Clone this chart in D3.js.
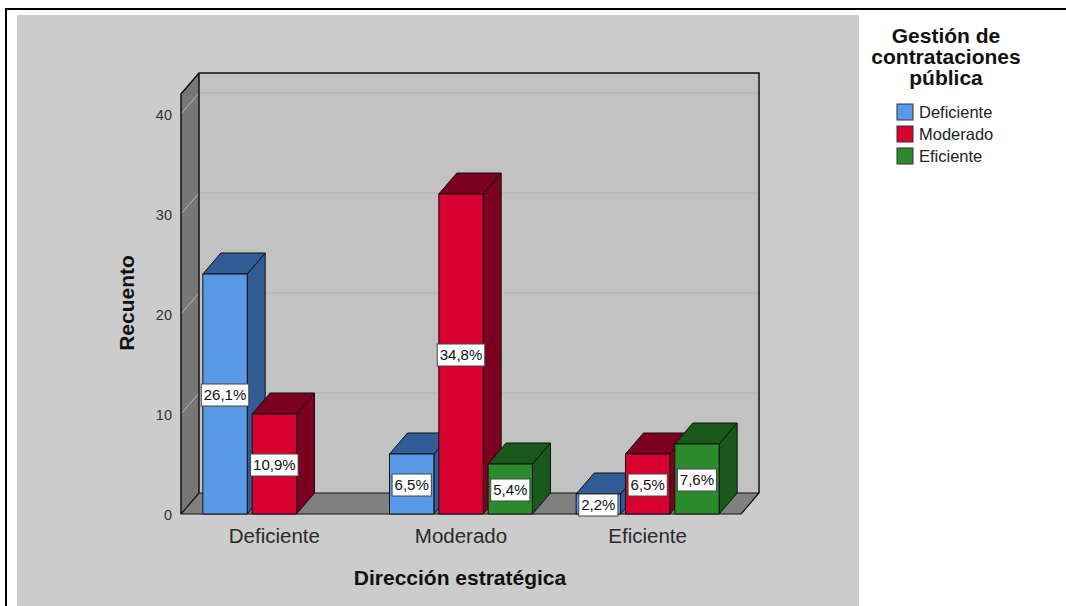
<!DOCTYPE html>
<html>
<head>
<meta charset="utf-8">
<script src="https://cdn.jsdelivr.net/npm/d3@7"></script>
<style>
  html, body { margin: 0; padding: 0; background: #ffffff; }
  svg { display: block; }
  text { font-family: "Liberation Sans", Arial, sans-serif; }
</style>
</head>
<body>
<svg id="chart" width="1066" height="606"></svg>
<script>
// Categories on the X axis (Dirección estratégica)
const categories = ["Deficiente", "Moderado", "Eficiente"];
// Series (Gestión de contrataciones pública)
const seriesNames = ["Deficiente", "Moderado", "Eficiente"];
// Counts per series, one value per category
const countsDeficiente = [24, 6, 2];
const countsModerado   = [10, 32, 6];
const countsEficiente  = [0, 5, 7];
const totalN = 92;
// Y axis ticks
const yTicks = [0, 10, 20, 30, 40];

const seriesCounts = [countsDeficiente, countsModerado, countsEficiente];
const frontColors = ["#5a99e6", "#d7002f", "#2a8a2c"];
const darkColors  = ["#315c96", "#7c0020", "#1b581c"];

const svg = d3.select("#chart");

// Frame and panel
svg.append("rect").attr("x", 17).attr("y", 15).attr("width", 842).attr("height", 600).attr("fill", "#cccccc");
svg.append("line").attr("x1", 5).attr("x2", 1066).attr("y1", 9).attr("y2", 9).attr("stroke", "#000").attr("stroke-width", 2);
svg.append("line").attr("x1", 6).attr("x2", 6).attr("y1", 8).attr("y2", 606).attr("stroke", "#000").attr("stroke-width", 2);

// 3D geometry
const DX = 18, DY = 21;
const xLeft = 181, xRight = 741;
const y = d3.scaleLinear().domain([0, 42]).range([514, 94]);
const x0 = d3.scaleBand().domain(categories).range([xLeft, xRight]).paddingInner(0.234).paddingOuter(0.117);
const x1 = d3.scaleBand().domain(seriesNames).range([0, x0.bandwidth()]).paddingInner(0.1);

const yBase = y(0), yCeil = y(42);
const line = d3.line();

// Back wall
svg.append("path")
  .attr("d", line([[xLeft + DX, yCeil - DY], [xRight + DX, yCeil - DY], [xRight + DX, yBase - DY], [xLeft + DX, yBase - DY]]) + "Z")
  .attr("fill", "#c2c2c2");
// Side wall
svg.append("path")
  .attr("d", line([[xLeft, yCeil], [xLeft + DX, yCeil - DY], [xLeft + DX, yBase - DY], [xLeft, yBase]]) + "Z")
  .attr("fill", "#777777");

// Gridlines on walls
yTicks.filter(t => t > 0).forEach(t => {
  svg.append("line")
    .attr("x1", xLeft + DX).attr("x2", xRight + DX)
    .attr("y1", y(t) - DY).attr("y2", y(t) - DY)
    .attr("stroke", "#b2b2b2").attr("stroke-width", 1.2);
  svg.append("line")
    .attr("x1", xLeft).attr("x2", xLeft + DX)
    .attr("y1", y(t)).attr("y2", y(t) - DY)
    .attr("stroke", "#b5b5b5").attr("stroke-width", 1);
});

// Floor
svg.append("path")
  .attr("d", line([[xLeft, yBase], [xLeft + DX, yBase - DY], [xRight + DX, yBase - DY], [xRight, yBase]]) + "Z")
  .attr("fill", "#808080").attr("stroke", "#111").attr("stroke-width", 1.2).attr("stroke-linejoin", "round");

// Wall outlines
svg.append("path")
  .attr("d", line([[xLeft, yBase], [xLeft, yCeil], [xLeft + DX, yCeil - DY], [xRight + DX, yCeil - DY], [xRight + DX, yBase - DY]]))
  .attr("fill", "none").attr("stroke", "#111").attr("stroke-width", 1.5);
svg.append("line")
  .attr("x1", xLeft + DX).attr("x2", xLeft + DX).attr("y1", yCeil - DY).attr("y2", yBase - DY)
  .attr("stroke", "#111").attr("stroke-width", 1.5);

// Y axis labels
const yAxis = d3.axisLeft(y).tickValues(yTicks).tickSize(0).tickPadding(9).tickFormat(d3.format("d"));
const gy = svg.append("g").attr("transform", `translate(${xLeft},0)`).call(yAxis);
gy.select(".domain").remove();
gy.selectAll("text").attr("font-size", 14.5).attr("fill", "#333").attr("font-family", "'Liberation Sans', Arial, sans-serif").attr("dy", "0.4em");

// Bars
const bars = [];
categories.forEach((c, ci) => {
  seriesNames.forEach((s, si) => {
    const v = seriesCounts[si][ci];
    if (v > 0) bars.push({ c, s, si, v });
  });
});

const gBars = svg.append("g");
bars.forEach(b => {
  const xa = x0(b.c) + x1(b.s), xb = xa + x1.bandwidth();
  const yt = y(b.v);
  const g = gBars.append("g").attr("stroke", "#111").attr("stroke-width", 1).attr("stroke-linejoin", "round");
  g.append("path")
    .attr("d", line([[xb, yt], [xb + DX, yt - DY], [xb + DX, yBase - DY], [xb, yBase]]) + "Z")
    .attr("fill", darkColors[b.si]);
  g.append("path")
    .attr("d", line([[xa, yt], [xa + DX, yt - DY], [xb + DX, yt - DY], [xb, yt]]) + "Z")
    .attr("fill", darkColors[b.si]);
  g.append("rect")
    .attr("x", xa).attr("y", yt).attr("width", xb - xa).attr("height", yBase - yt)
    .attr("fill", frontColors[b.si]);
});

// Percentage labels
const pctFmt = v => (Math.round(v / totalN * 1000) / 10).toFixed(1).replace(".", ",") + "%";
bars.forEach(b => {
  const cx = x0(b.c) + x1(b.s) + x1.bandwidth() / 2;
  const cy = (y(b.v) + yBase) / 2 + 1;
  const g = svg.append("g");
  const t = g.append("text")
    .attr("x", cx).attr("y", cy).attr("text-anchor", "middle").attr("dy", "0.36em")
    .attr("font-size", 15).attr("fill", "#111").text(pctFmt(b.v));
  const w = t.node().getComputedTextLength();
  g.insert("rect", "text")
    .attr("x", cx - w / 2 - 2.5).attr("y", cy - 11).attr("width", w + 5).attr("height", 22)
    .attr("fill", "#fff").attr("stroke", "#444").attr("stroke-width", 1);
});

// Category labels
categories.forEach(c => {
  svg.append("text")
    .attr("x", x0(c) + x0.bandwidth() / 2).attr("y", 543)
    .attr("text-anchor", "middle").attr("font-size", 20.5).attr("fill", "#2a2a2a").text(c);
});

// Axis titles
svg.append("text").attr("x", 460).attr("y", 585).attr("text-anchor", "middle")
  .attr("font-size", 21).attr("font-weight", "bold").attr("fill", "#111").text("Dirección estratégica");
svg.append("text").attr("transform", "translate(134,303) rotate(-90)").attr("text-anchor", "middle")
  .attr("font-size", 21).attr("font-weight", "bold").attr("fill", "#111").text("Recuento");

// Legend
const legendTitle = ["Gestión de", "contrataciones", "pública"];
legendTitle.forEach((l, i) => {
  svg.append("text").attr("x", 946).attr("y", 43 + i * 21).attr("text-anchor", "middle")
    .attr("font-size", 21).attr("font-weight", "bold").attr("fill", "#111").text(l);
});
seriesNames.forEach((s, i) => {
  const yy = 112 + i * 22;
  svg.append("rect").attr("x", 897).attr("y", yy - 8).attr("width", 16).attr("height", 16)
    .attr("fill", frontColors[i]).attr("stroke", "#333").attr("stroke-width", 1);
  svg.append("text").attr("x", 919).attr("y", yy).attr("dy", "0.36em")
    .attr("font-size", 16.5).attr("fill", "#222").text(s);
});
</script>
</body>
</html>
